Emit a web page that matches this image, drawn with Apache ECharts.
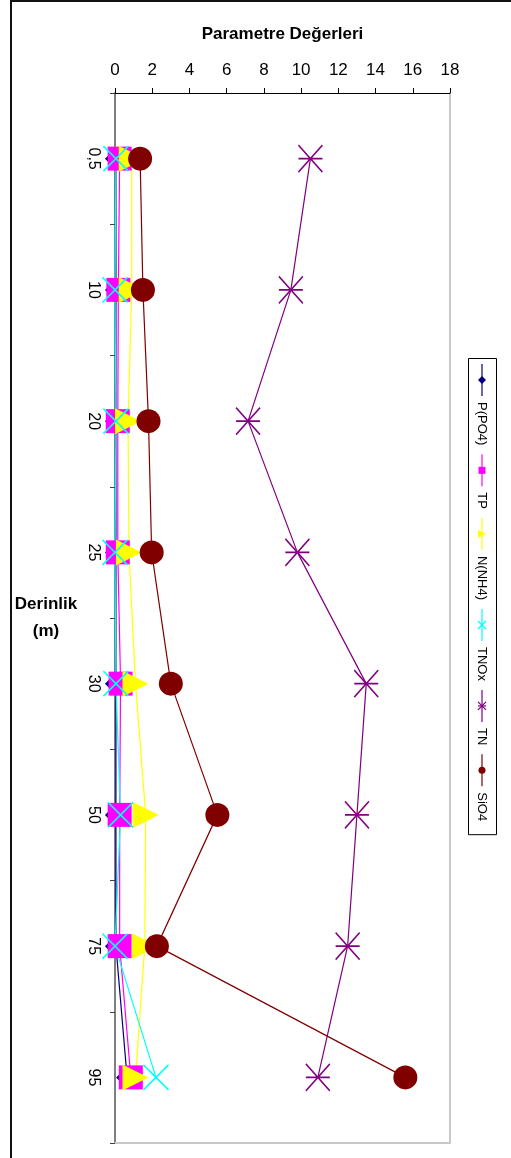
<!DOCTYPE html>
<html>
<head>
<meta charset="utf-8">
<script src="https://cdn.jsdelivr.net/npm/echarts@6/dist/echarts.min.js"></script>
<style>
html,body{margin:0;padding:0;background:#fff;}
#chart{width:511px;height:1158px;}
</style>
</head>
<body>
<div id="chart"></div>
<script>
// ---- data ----
const depths = ['0,5', '10', '20', '25', '30', '50', '75', '95'];
const seriesNames = ['P(PO4)', 'TP', 'N(NH4)', 'TNOx', 'TN', 'SiO4'];
const pPO4 = [0.05, 0.05, 0.05, 0.05, 0.05, 0.05, 0.05, 0.65];
const tp   = [0.25, 0.18, 0.15, 0.15, 0.3, 0.25, 0.25, 0.85];
const nNH4 = [0.9, 0.9, 0.7, 0.75, 1.1, 1.65, 1.6, 1.1];
const tnox = [0.05, 0.0, 0.05, 0.0, 0.05, 0.3, 0.0, 2.2];
const tn   = [10.5, 9.45, 7.15, 9.8, 13.5, 13.0, 12.5, 10.9];
const sio4 = [1.35, 1.5, 1.8, 1.97, 3.0, 5.5, 2.25, 15.6];
const xTicks = [0, 2, 4, 6, 8, 10, 12, 14, 16, 18];

const colors = ['#000080', '#ff00ff', '#ffff00', '#00ffff', '#800080', '#800000'];
const values = [pPO4, tp, nNH4, tnox, tn, sio4];
const symbols = [
  {symbol: 'diamond', size: 22, stroke: false},
  {symbol: 'rect', size: 24, stroke: false},
  {symbol: 'path://M0,0L10,5L0,10Z', size: 26, stroke: false},
  {symbol: 'path://M0,0L10,10M10,0L0,10', size: 25, stroke: true},
  {symbol: 'path://M0,5L10,5M0,0L10,10M10,0L0,10', size: [24, 27], stroke: true},
  {symbol: 'circle', size: 24, stroke: false}
];

const FONT = '"Liberation Sans", Arial, Helvetica, sans-serif';

const series = seriesNames.map((name, k) => ({
  name: name,
  type: 'line',
  xAxisIndex: 0,
  yAxisIndex: 0,
  data: depths.map((d, i) => [values[k][i], d]),
  symbol: symbols[k].symbol,
  symbolSize: symbols[k].size,
  showAllSymbol: true,
  lineStyle: {color: colors[k], width: 1.2},
  itemStyle: symbols[k].stroke
    ? {color: colors[k], borderColor: colors[k], borderWidth: 1.5}
    : {color: colors[k], borderWidth: 0},
  emphasis: {disabled: true},
  animation: false
}));

// ---- custom vertical legend (rotated text) ----
const measure = (() => {
  const c = document.createElement('canvas').getContext('2d');
  c.font = '13px ' + FONT;
  return t => c.measureText(t).width;
})();
const legendX = 482;
const legendEls = [];
let ly = 364;
const Z = 110;
seriesNames.forEach((name, k) => {
  const c = ly + 16;
  const col = colors[k];
  legendEls.push({type: 'line', z: Z, shape: {x1: legendX, y1: ly, x2: legendX, y2: ly + 32},
    style: {stroke: col, lineWidth: 1.2}, silent: true});
  if (k === 0) legendEls.push({type: 'polygon', z: Z, shape: {points: [[legendX - 4, c], [legendX, c - 4], [legendX + 4, c], [legendX, c + 4]]}, style: {fill: col}});
  if (k === 1) legendEls.push({type: 'rect', z: Z, shape: {x: legendX - 3.5, y: c - 3.5, width: 7, height: 7}, style: {fill: col}});
  if (k === 2) legendEls.push({type: 'polygon', z: Z, shape: {points: [[legendX - 4, c - 4], [legendX + 4, c], [legendX - 4, c + 4]]}, style: {fill: col}});
  if (k === 3 || k === 4) {
    legendEls.push({type: 'line', z: Z, shape: {x1: legendX - 4, y1: c - 4, x2: legendX + 4, y2: c + 4}, style: {stroke: col, lineWidth: 1.2}});
    legendEls.push({type: 'line', z: Z, shape: {x1: legendX + 4, y1: c - 4, x2: legendX - 4, y2: c + 4}, style: {stroke: col, lineWidth: 1.2}});
  }
  if (k === 4) legendEls.push({type: 'line', z: Z, shape: {x1: legendX - 4, y1: c, x2: legendX + 4, y2: c}, style: {stroke: col, lineWidth: 1.2}});
  if (k === 5) legendEls.push({type: 'circle', z: Z, shape: {cx: legendX, cy: c, r: 3.5}, style: {fill: col}});
  const ts = ly + 38;
  legendEls.push({type: 'text', z: Z, x: legendX, y: ts, rotation: -Math.PI / 2,
    style: {text: name, fill: '#000', font: '13px ' + FONT, textAlign: 'left', textVerticalAlign: 'middle'}});
  ly = ts + measure(name) + 9;
});

const chart = echarts.init(document.getElementById('chart'), null, {renderer: 'canvas'});
chart.setOption({
  backgroundColor: '#ffffff',
  animation: false,
  textStyle: {fontFamily: FONT},
  grid: {left: 115, right: 61, top: 93, bottom: 15, containLabel: false},
  xAxis: [{
    type: 'value', position: 'top', min: xTicks[0], max: xTicks[xTicks.length - 1], interval: 2,
    name: 'Parametre Değerleri', nameLocation: 'middle', nameGap: 59,
    nameTextStyle: {fontFamily: FONT, fontSize: 17, fontWeight: 'bold', color: '#000', verticalAlign: 'middle'},
    axisLine: {show: true, lineStyle: {color: '#000', width: 1}},
    axisTick: {show: true, inside: false, length: 5, lineStyle: {color: '#000'}},
    axisLabel: {fontFamily: FONT, fontSize: 17, color: '#000', margin: 14},
    splitLine: {show: false}
  }, {
    type: 'value', position: 'bottom', min: xTicks[0], max: xTicks[xTicks.length - 1],
    axisLine: {show: true, onZero: false, lineStyle: {color: '#c8c8c8', width: 2}},
    axisTick: {show: false}, axisLabel: {show: false}, splitLine: {show: false}
  }],
  yAxis: [{
    type: 'category', data: depths, inverse: true, boundaryGap: true,
    name: 'Derinlik\n(m)', nameLocation: 'middle', nameGap: 69, nameRotate: 0,
    nameTextStyle: {fontFamily: FONT, fontSize: 17, fontWeight: 'bold', color: '#000', align: 'center', verticalAlign: 'middle', lineHeight: 27},
    axisLine: {show: true, onZero: false, lineStyle: {color: '#808080', width: 2}},
    axisTick: {show: true, inside: false, length: 5, alignWithLabel: false, lineStyle: {color: '#404040'}},
    axisLabel: {fontFamily: FONT, fontSize: 16, color: '#000', rotate: -90, margin: 14},
    splitLine: {show: false}
  }, {
    type: 'category', data: depths, inverse: true, position: 'right',
    axisLine: {show: true, onZero: false, lineStyle: {color: '#c8c8c8', width: 2}},
    axisTick: {show: false}, axisLabel: {show: false}, splitLine: {show: false}
  }],
  series: series,
  graphic: [
    {type: 'rect', z: 100, shape: {x: 11, y: 1, width: 620, height: 1220}, style: {stroke: '#111', fill: null, lineWidth: 2}, silent: true},
    {type: 'rect', z: 100, shape: {x: 468.5, y: 358.5, width: 28, height: ly - 358 + 4}, style: {stroke: '#000', fill: '#fff', lineWidth: 1}, silent: true}
  ].concat(legendEls)
});
</script>
</body>
</html>
